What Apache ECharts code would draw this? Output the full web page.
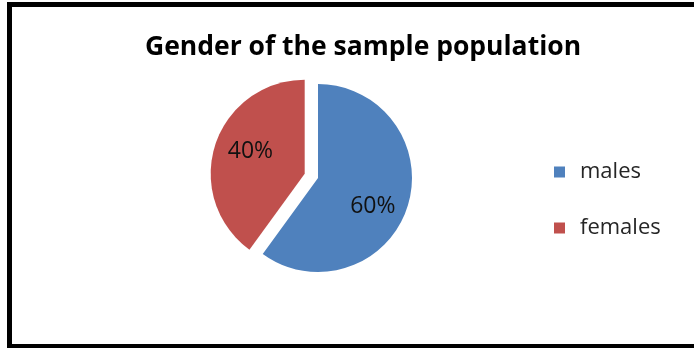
<!DOCTYPE html>
<html>
<head>
<meta charset="utf-8">
<style>
  html, body { margin: 0; padding: 0; background: #fff; }
  #chart { width: 694px; height: 348px; }
</style>
<script src="https://cdn.jsdelivr.net/npm/echarts@6/dist/echarts.min.js"></script>
</head>
<body>
<div id="chart"></div>
<script>
// Sample population split by gender (percent)
const categories = ['males', 'females'];
const shares = [60, 40];
const sliceColors = ['#4F81BD', '#C0504D'];

const chart = echarts.init(document.getElementById('chart'), null, { renderer: 'canvas' });

const center = [318, 178];

chart.setOption({
  animation: false,
  backgroundColor: '#ffffff',
  title: {
    text: 'Gender of the sample population',
    left: 358,
    top: 29,
    textAlign: 'center',
    textStyle: {
      fontFamily: 'Open Sans',
      fontWeight: 'bold',
      fontSize: 26.5,
      color: '#000000'
    }
  },
  legend: {
    orient: 'vertical',
    left: 554,
    top: 161,
    padding: 0,
    icon: 'rect',
    itemWidth: 11,
    itemHeight: 11,
    itemGap: 34,
    selectedMode: false,
    data: categories,
    textStyle: {
      fontFamily: 'Open Sans',
      fontSize: 22,
      color: '#262626',
      padding: [0, 0, 0, 10]
    }
  },
  graphic: [
    { type: 'rect', shape: { x: 7, y: 2, width: 700, height: 5 }, style: { fill: '#000' } },
    { type: 'rect', shape: { x: 7, y: 2, width: 5, height: 346 }, style: { fill: '#000' } },
    { type: 'rect', shape: { x: 7, y: 344, width: 700, height: 4 }, style: { fill: '#000' } }
  ],
  series: [
    {
      type: 'pie',
      center: center,
      radius: 94,
      startAngle: 90,
      clockwise: true,
      selectedMode: 'single',
      selectedOffset: 14,
      silent: true,
      label: { show: false },
      labelLine: { show: false },
      data: categories.map((name, i) => ({
        name: name,
        value: shares[i],
        selected: name === 'females',
        itemStyle: { color: sliceColors[i] }
      }))
    },
    {
      // transparent copy that carries the percentage labels a bit further out
      type: 'pie',
      center: center,
      radius: 114,
      startAngle: 84,
      clockwise: true,
      selectedMode: 'single',
      selectedOffset: 14,
      silent: true,
      itemStyle: { color: 'rgba(0,0,0,0)' },
      label: {
        show: true,
        position: 'inside',
        formatter: '{d}%',
        fontFamily: 'Open Sans',
        fontSize: 23,
        color: '#111111'
      },
      labelLayout: { dy: 4 },
      labelLine: { show: false },
      data: categories.map((name, i) => ({
        name: name,
        value: shares[i],
        selected: name === 'females'
      }))
    }
  ]
});
</script>
</body>
</html>
